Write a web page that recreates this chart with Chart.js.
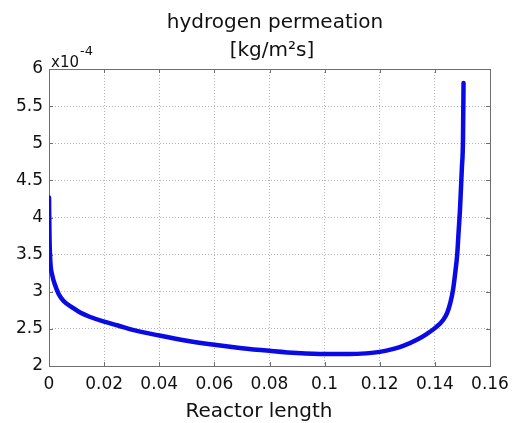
<!DOCTYPE html>
<html>
<head>
<meta charset="utf-8">
<script src="https://cdn.jsdelivr.net/npm/chart.js@4.4.1/dist/chart.umd.min.js"></script>
<style>
  html, body { margin: 0; padding: 0; background: #fff; }
  canvas { display: block; }
</style>
</head>
<body>
<canvas id="permChart" width="518" height="423"></canvas>
<script>
// reactor length [m]
const reactorLength = [
  0, 0.0002, 0.0005, 0.0012, 0.0022, 0.0035, 0.0052, 0.0088, 0.0113, 0.015,
  0.0197, 0.025, 0.03, 0.04, 0.05, 0.06, 0.07, 0.08, 0.09,
  0.1, 0.109, 0.115, 0.12, 0.125, 0.1285, 0.1338, 0.137, 0.14, 0.143,
  0.1445, 0.1456, 0.1466, 0.1474, 0.1481, 0.1486, 0.1491, 0.1494, 0.1498, 0.1502, 0.1504
];
// hydrogen permeation [x10^-4 kg/m2s]
const permeation = [
  4.27, 3.70, 3.40, 3.22, 3.09, 2.97, 2.88, 2.78, 2.72, 2.66,
  2.60, 2.545, 2.49, 2.41, 2.34, 2.285, 2.24, 2.205, 2.175,
  2.16, 2.16, 2.17, 2.19, 2.23, 2.27, 2.36, 2.43, 2.51, 2.62,
  2.72, 2.85, 3.03, 3.26, 3.50, 3.80, 4.10, 4.34, 4.67, 5.05, 5.81
];

const xTicks = [0, 0.02, 0.04, 0.06, 0.08, 0.1, 0.12, 0.14, 0.16];
const xTickLabels = ['0', '0.02', '0.04', '0.06', '0.08', '0.1', '0.12', '0.14', '0.16'];
const yTicks = [2, 2.5, 3, 3.5, 4, 4.5, 5, 5.5, 6];
const yTickLabels = ['2', '2.5', '3', '3.5', '4', '4.5', '5', '5.5', '6'];

const FONT = 'DejaVu Sans';
const BOX = '#6e6e6e';

// frame round the plot + small inward ticks (matlab look)
const framePlugin = {
  id: 'frame',
  beforeDatasetsDraw(chart) {
    const { ctx, chartArea: a, scales } = chart;
    ctx.save();
    ctx.strokeStyle = BOX;
    ctx.lineWidth = 1;
    ctx.beginPath();
    scales.x.ticks.forEach(t => {
      const px = Math.round(scales.x.getPixelForValue(t.value)) + 0.5;
      ctx.moveTo(px, a.bottom); ctx.lineTo(px, a.bottom - 4);
      ctx.moveTo(px, a.top); ctx.lineTo(px, a.top + 4);
    });
    scales.y.ticks.forEach(t => {
      const py = Math.round(scales.y.getPixelForValue(t.value)) + 0.5;
      ctx.moveTo(a.left, py); ctx.lineTo(a.left + 4, py);
      ctx.moveTo(a.right, py); ctx.lineTo(a.right - 4, py);
    });
    ctx.stroke();
    ctx.strokeRect(Math.round(a.left) + 0.5, Math.round(a.top) + 0.5,
      Math.round(a.right - a.left), Math.round(a.bottom - a.top));
    ctx.restore();
  },
  afterDraw(chart) {
    const { ctx } = chart;
    ctx.save();
    ctx.fillStyle = '#111';
    ctx.textBaseline = 'alphabetic';
    ctx.textAlign = 'center';
    ctx.font = '20px "' + FONT + '"';
    ctx.fillText('hydrogen permeation', 275, 28);
    ctx.fillText('[kg/m²s]', 272, 56);
    ctx.fillText('Reactor length', 259, 417);
    ctx.textAlign = 'left';
    ctx.font = '15px "' + FONT + '"';
    ctx.fillText('x10', 51, 67);
    ctx.font = '13px "' + FONT + '"';
    ctx.fillText('-4', 80, 55);
    ctx.restore();
  }
};

new Chart(document.getElementById('permChart'), {
  type: 'line',
  data: {
    datasets: [{
      data: reactorLength.map((x, i) => ({ x: x, y: permeation[i] })),
      borderColor: '#0a0ae6',
      borderWidth: 4.5,
      borderJoinStyle: 'round',
      borderCapStyle: 'round',
      pointRadius: 0,
      fill: false,
      cubicInterpolationMode: 'monotone'
    }]
  },
  options: {
    responsive: false,
    devicePixelRatio: 1,
    animation: false,
    layout: { padding: { left: 0, right: 28, top: 69, bottom: 0 } },
    plugins: {
      legend: { display: false },
      tooltip: { enabled: false }
    },
    scales: {
      x: {
        type: 'linear',
        min: 0,
        max: 0.16,
        afterBuildTicks: s => { s.ticks = xTicks.map(v => ({ value: v })); },
        afterFit: s => { s.height = 57; },
        ticks: {
          padding: 8,
          color: '#111',
          font: { family: FONT, size: 17 },
          maxRotation: 0,
          autoSkip: false,
          callback: (v, i) => xTickLabels[i]
        },
        grid: { color: '#b4b4b4', drawTicks: false },
        border: { display: false, dash: [1, 2] }
      },
      y: {
        min: 2,
        max: 6,
        afterBuildTicks: s => { s.ticks = yTicks.map(v => ({ value: v })); },
        afterFit: s => { s.width = 49; },
        ticks: {
          padding: 6,
          color: '#111',
          font: { family: FONT, size: 17 },
          autoSkip: false,
          callback: (v, i) => yTickLabels[i]
        },
        grid: { color: '#b4b4b4', drawTicks: false },
        border: { display: false, dash: [1, 2] }
      }
    }
  },
  plugins: [framePlugin]
});
</script>
</body>
</html>
